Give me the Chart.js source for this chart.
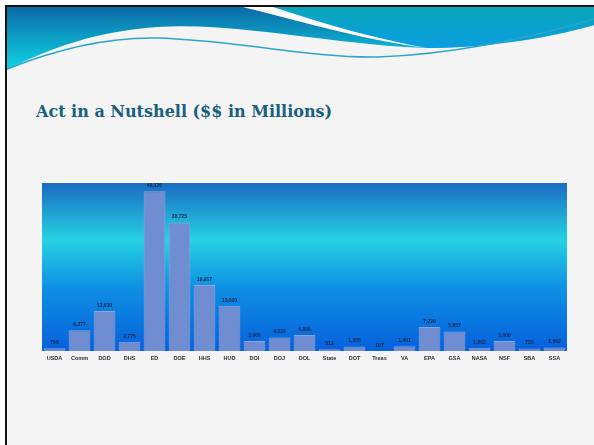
<!DOCTYPE html>
<html lang="en">
<head>
  <meta charset="UTF-8">
  <title>Act in a Nutshell</title>
  <style>
    body { margin: 0; padding: 0; width: 594px; height: 445px; overflow: hidden; background: #fff; }
    .slide { position: absolute; left: 5px; top: 5px; width: 600px; height: 450px; background: #f4f4f4; border-left: 2px solid #111; border-top: 2px solid #111; }
    .header { position: absolute; left: 7px; top: 7px; }
    h1 { position: absolute; left: 36px; top: 102px; margin: 0; font: bold 16px "DejaVu Serif", serif; color: #17607e; }
    #wrap { position: absolute; left: 0; top: 0; width: 594px; height: 445px; }
  </style>
  <script src="https://cdn.jsdelivr.net/npm/chart.js"></script>
</head>
<body>
  <div class="slide"></div>
  <svg class="header" width="587" height="80" viewBox="0 0 587 80">
    <defs>
      <linearGradient id="g1" x1="0" y1="0" x2="0" y2="1">
        <stop offset="0" stop-color="#0a6aa6"/>
        <stop offset="1" stop-color="#0fd6e6"/>
      </linearGradient>
      <linearGradient id="g2" x1="0" y1="0" x2="0" y2="1">
        <stop offset="0" stop-color="#0aa6bc"/>
        <stop offset="1" stop-color="#0a9ee0"/>
      </linearGradient>
    </defs>
    <path d="M0 0 L587 0 L587 18 C540 30 480 40 420 41 C330 38 230 15 150 20 C90 24 40 42 0 63 Z" fill="url(#g1)"/>
    <path d="M236 0 L587 0 L587 18 C540 32 470 42 420 41 C360 30 300 10 236 0 Z" fill="url(#g2)"/>
    <path d="M236 0 L266 0 C320 18 370 32 420 41 C360 34 300 16 236 0 Z" fill="#ffffff"/>
    <path d="M0 62 C50 42 100 30 150 31 C230 33 300 51 370 50 C440 48 520 32 587 12" fill="none" stroke="#2aa6c8" stroke-width="1.6"/>
  </svg>
  <h1>Act in a Nutshell ($$ in Millions)</h1>
  <div id="wrap"><canvas id="chart" width="594" height="445"></canvas></div>

  <script>
    // agencies and amounts ($ millions)
    const agencies = ["USDA", "Comm", "DOD", "DHS", "ED", "DOE", "HHS", "HUD", "DOI", "DOJ", "DOL",
      "State", "DOT", "Treas", "VA", "EPA", "GSA", "NASA", "NSF", "SBA", "SSA"];
    const amounts = [796, 6277, 12030, 2775, 48126, 38725, 19917, 13620, 3000, 4032, 4806,
      512, 1355, 107, 1401, 7220, 5857, 1002, 3000, 730, 1062];
    const yMax = 50000;

    const backdrop = {
      id: 'backdrop',
      beforeDraw(chart) {
        const { ctx, chartArea: a } = chart;
        const g = ctx.createLinearGradient(0, a.top, 0, a.bottom);
        g.addColorStop(0, '#1a6ec4');
        g.addColorStop(0.33, '#26d2e2');
        g.addColorStop(0.62, '#0f90e4');
        g.addColorStop(1, '#0660dc');
        ctx.save();
        ctx.fillStyle = g;
        ctx.fillRect(a.left, a.top - 2, a.right - a.left, a.bottom - a.top + 2);
        ctx.fillStyle = '#ffffff';
        ctx.fillRect(a.left, a.top - 3, a.right - a.left, 1);
        ctx.restore();
      }
    };

    // value labels above bars + agency names under the axis
    const labelsPlugin = {
      id: 'labelsPlugin',
      afterDatasetsDraw(chart) {
        const ctx = chart.ctx;
        const xs = chart.scales.x;
        ctx.save();
        ctx.textAlign = 'center';
        ctx.font = 'bold 5px "Liberation Sans", Arial, sans-serif';
        ctx.fillStyle = '#16264a';
        ctx.textBaseline = 'bottom';
        chart.getDatasetMeta(0).data.forEach((bar, i) => {
          ctx.fillText(amounts[i].toLocaleString('en-US'), bar.x, bar.y - 3);
        });
        ctx.font = 'bold 5.5px "Liberation Sans", Arial, sans-serif';
        ctx.fillStyle = '#2a2a3a';
        ctx.textBaseline = 'middle';
        agencies.forEach((name, i) => {
          ctx.fillText(name, xs.getPixelForValue(i), chart.chartArea.bottom + 7);
        });
        ctx.restore();
      }
    };

    new Chart(document.getElementById('chart'), {
      type: 'bar',
      data: {
        labels: agencies,
        datasets: [{
          data: amounts,
          backgroundColor: '#6f8dd0',
          borderColor: '#8ea6da',
          borderWidth: 1,
          categoryPercentage: 1,
          barPercentage: 0.87
        }]
      },
      options: {
        responsive: false,
        animation: false,
        layout: { padding: { left: 42, right: 27, top: 185, bottom: 82 } },
        plugins: { legend: { display: false }, tooltip: { enabled: false } },
        scales: {
          x: {
            grid: { display: false },
            border: { display: false },
            ticks: { display: false },
            afterFit: s => { s.height = 12; }
          },
          y: { display: false, min: 0, max: yMax }
        }
      },
      plugins: [backdrop, labelsPlugin]
    });
  </script>
</body>
</html>
